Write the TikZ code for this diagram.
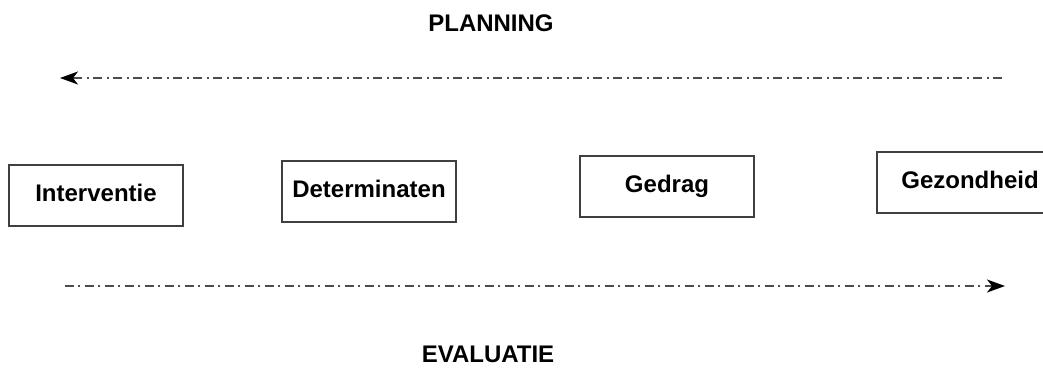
\documentclass[tikz,border=0pt]{standalone}
\usepackage{fontspec}
\setmainfont{Liberation Sans}
\usetikzlibrary{arrows.meta}
\begin{document}
\begin{tikzpicture}[x=1pt,y=-1pt,
  stage/.style={draw=black!75, line width=1.2pt, minimum width=174pt, minimum height=61pt, inner sep=0pt},
  lbl/.style={anchor=base, inner sep=0pt, font=\fontsize{24}{28}\selectfont\bfseries},
  flow/.style={draw=black!70, line width=1.6pt, dash pattern=on 9pt off 4pt on 2pt off 5pt,
    -{Stealth[length=18pt,width=13pt,inset=5pt,color=black,sep=0pt]}}]
  \useasboundingbox (0,0) rectangle (1043,369);
  % headings
  \node[lbl] (plan) at (491,32) {PLANNING};
  \node[lbl] (eval) at (488,362) {EVALUATIE};
  % stage boxes
  \node[stage] (interv) at (96,195.5) {};
  \node[stage] (determ) at (369,191.5) {};
  \node[stage] (gedrag) at (667,186.5) {};
  \node[stage, minimum width=186pt] (gezond) at (970,182.5) {};
  \node[lbl] (tinterv) at (96,201) {Interventie};
  \node[lbl] (tdeterm) at (369,197) {Determinaten};
  \node[lbl] (tgedrag) at (667,192) {Gedrag};
  \node[lbl] (tgezond) at (970,188) {Gezondheid};
  % planning and evaluation arrows
  \coordinate (pstart) at (1002,78);
  \coordinate (pend) at (60,78);
  \coordinate (estart) at (65,286);
  \coordinate (eend) at (1005,286);
  \draw[flow] (pstart) -- (pend);
  \draw[flow] (estart) -- (eend);
\end{tikzpicture}
\end{document}
